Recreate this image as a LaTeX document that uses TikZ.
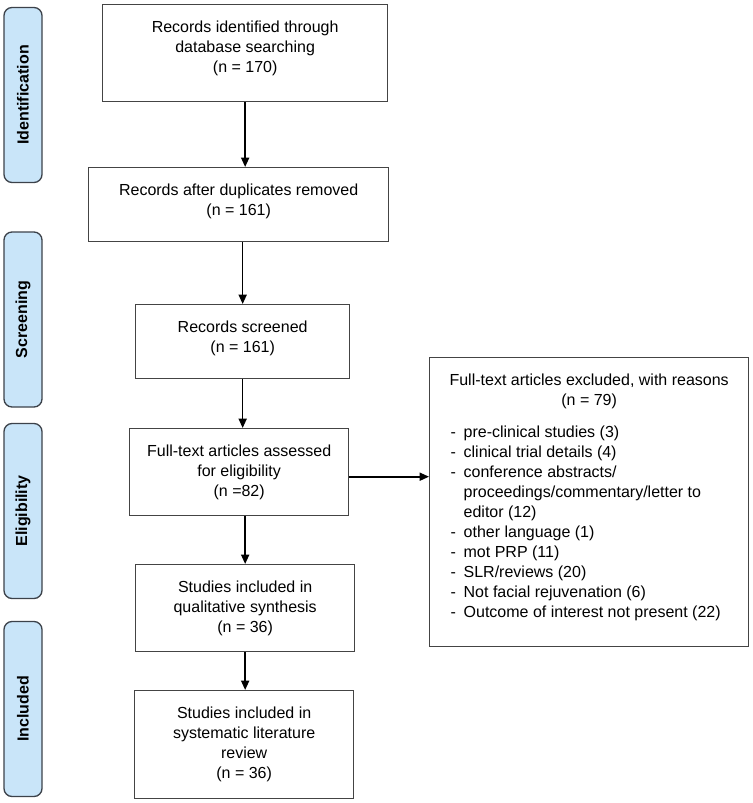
\documentclass[tikz,border=0pt]{standalone}
\usepackage{fontspec}
\setmainfont{Liberation Sans}
\usepackage{tikz}
\usetikzlibrary{arrows.meta}

\definecolor{tabfill}{RGB}{201,229,249}
\definecolor{tabline}{RGB}{60,66,74}
\definecolor{boxline}{RGB}{68,68,68}

\newcommand{\boxtext}[3]{\begin{minipage}[c][#2][t]{#1}\centering\rule{0pt}{21pt}#3\end{minipage}}
\newcommand{\exitem}[1]{\hspace*{15.75pt}\makebox[9.75pt][l]{-}#1}
\newcommand{\excont}[1]{\hspace*{25.5pt}#1}

\begin{document}
\begin{tikzpicture}[x=0.75pt,y=0.75pt,yscale=-1,xscale=1,
  flowbox/.style={draw=boxline, line width=1pt, inner sep=0pt, anchor=north west, font=\fontsize{12}{15}\selectfont},
  phasetab/.style={draw=tabline, fill=tabfill, line width=1pt, rounded corners=6pt, rotate=90, minimum width=131.25pt, minimum height=28.5pt, inner sep=0pt, font=\fontsize{12}{15}\selectfont\bfseries},
  flowarrow/.style={draw=black, line width=1.2pt, -{Triangle[length=7pt,width=6pt]}}]
\useasboundingbox (0,0) rectangle (753,803);

%Shape: Rounded Rect
\node[phasetab] (identification) at (23,95) {Identification};
%Shape: Rounded Rect
\node[phasetab] (screening) at (23,319.5) {Screening};
%Shape: Rounded Rect
\node[phasetab] (eligibility) at (23,511) {Eligibility};
%Shape: Rounded Rect
\node[phasetab] (included) at (23,709) {Included};

% Text Node
\node[flowbox] (records) at (102,4) {\boxtext{213.75pt}{72.75pt}{Records identified through\\database searching\\(n = 170)}};
% Text Node
\node[flowbox] (dedup) at (88,167) {\boxtext{225pt}{55.5pt}{Records after duplicates removed\\(n = 161)}};
% Text Node
\node[flowbox] (screened) at (135,304) {\boxtext{160.5pt}{55.5pt}{Records screened\\(n = 161)}};
% Text Node
\node[flowbox] (fulltext) at (129,428) {\boxtext{164.25pt}{65.25pt}{Full-text articles assessed\\for eligibility\\(n =82)}};
% Text Node
\node[flowbox] (qualitative) at (135,564) {\boxtext{164.25pt}{65.25pt}{Studies included in\\qualitative synthesis\\(n = 36)}};
% Text Node
\node[flowbox] (slr) at (134,690) {\boxtext{164.25pt}{81pt}{Studies included in\\systematic literature\\review\\(n = 36)}};
% Text Node
\node[flowbox] (excluded) at (429,357) {\boxtext{239.25pt}{216.75pt}{Full-text articles excluded, with reasons\\(n = 79)\par\vspace{9pt}\raggedright
  \exitem{pre-clinical studies (3)}\\
  \exitem{clinical trial details (4)}\\
  \exitem{conference abstracts/}\\
  \excont{proceedings/commentary/letter to}\\
  \excont{editor (12)}\\
  \exitem{other language (1)}\\
  \exitem{mot PRP (11)}\\
  \exitem{SLR/reviews (20)}\\
  \exitem{Not facial rejuvenation (6)}\\
  \exitem{Outcome of interest not present (22)}}};

%Straight Lines
\draw[flowarrow] (records.south) -- (records.south |- dedup.north);
%Straight Lines
\draw[flowarrow] (screened.north |- dedup.south) -- (screened.north);
%Straight Lines
\draw[flowarrow] (screened.south) -- (screened.south |- fulltext.north);
%Straight Lines
\draw[flowarrow] (qualitative.north |- fulltext.south) -- (qualitative.north);
%Straight Lines
\draw[flowarrow] (qualitative.south) -- (qualitative.south |- slr.north);
%Straight Lines
\draw[flowarrow] ([yshift=3.4pt]fulltext.east) -- ([yshift=3.4pt]fulltext.east -| excluded.west);

\end{tikzpicture}
\end{document}
